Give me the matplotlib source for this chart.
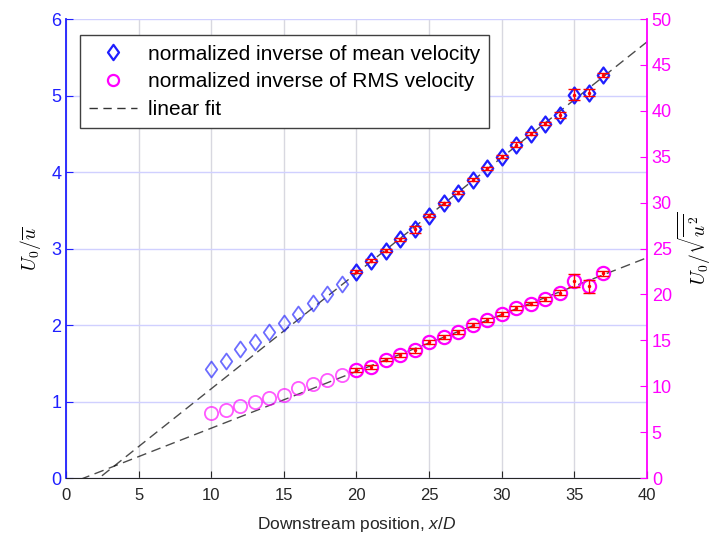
import numpy as np
import matplotlib.pyplot as plt
from matplotlib.lines import Line2D
from matplotlib.path import Path

plt.rcParams['font.family'] = ['Liberation Sans', 'DejaVu Sans']
plt.rcParams['mathtext.fontset'] = 'custom'
plt.rcParams['mathtext.rm'] = 'Liberation Sans'
plt.rcParams['mathtext.it'] = 'Liberation Sans:italic'

# --- DATA ---
x_pos = np.arange(10, 38)
mean_inv = [1.42, 1.53, 1.69, 1.78, 1.91, 2.03, 2.15, 2.29, 2.41, 2.54,
            2.70, 2.84, 2.97, 3.12, 3.25, 3.43, 3.59, 3.73, 3.90, 4.05,
            4.20, 4.36, 4.50, 4.63, 4.75, 5.01, 5.04, 5.27]
rms_inv = [7.05, 7.4, 7.9, 8.25, 8.75, 9.05, 9.85, 10.2, 10.65, 11.2,
           11.75, 12.1, 12.9, 13.4, 13.9, 14.8, 15.4, 15.9, 16.7, 17.2,
           17.9, 18.5, 19.0, 19.5, 20.2, 21.5, 20.9, 22.3]
mean_err = [0.02, 0.02, 0.02, 0.02, 0.05, 0.02, 0.02, 0.02, 0.02, 0.02,
            0.02, 0.03, 0.02, 0.02, 0.04, 0.07, 0.05, 0.03]
rms_err = [0.2, 0.2, 0.2, 0.2, 0.25, 0.2, 0.2, 0.2, 0.2, 0.2,
           0.2, 0.2, 0.2, 0.2, 0.3, 0.7, 0.7, 0.25]
FIT_START = 20  # points from here on are used for the fit

BLUE = '#1f1fff'
MAGENTA = '#ff00ff'

# taller-than-wide diamond, like the reference markers
DIAMOND = Path([(0, 1), (0.72, 0), (0, -1), (-0.72, 0), (0, 1)],
               [Path.MOVETO, Path.LINETO, Path.LINETO, Path.LINETO, Path.CLOSEPOLY])

mean_inv = np.array(mean_inv)
rms_inv = np.array(rms_inv)
used = x_pos >= FIT_START

fig = plt.figure(figsize=(7.18, 5.38), dpi=100)
ax = fig.add_axes([0.092, 0.1115, 0.809, 0.853])
ax2 = ax.twinx()

# --- fits ---
x_fit = np.linspace(0, 40, 200)
p_mean = np.polyfit(x_pos[used], mean_inv[used], 1)
p_rms = np.polyfit(x_pos[used], rms_inv[used], 1)
ax.plot(x_fit, np.polyval(p_mean, x_fit), '--', color='black', alpha=0.7,
        lw=1.0, dashes=(7, 4), zorder=2)
ax2.plot(x_fit, np.polyval(p_rms, x_fit), '--', color='black', alpha=0.7,
         lw=1.0, dashes=(7, 4), zorder=2)

# --- mean velocity (left) ---
ax.plot(x_pos[~used], mean_inv[~used], ls='none', marker=DIAMOND, mfc='none',
        mec=BLUE, ms=11.5, mew=1.3, alpha=0.65, zorder=3)
ax.plot(x_pos[used], mean_inv[used], ls='none', marker=DIAMOND, mfc='none',
        mec=BLUE, ms=11.5, mew=1.6, zorder=3)
ax.errorbar(x_pos[used], mean_inv[used], yerr=mean_err, fmt='.', color='red',
            ms=3, capsize=4, elinewidth=1, zorder=4)

# --- RMS velocity (right) ---
ax2.plot(x_pos[~used], rms_inv[~used], 'o', mfc='none', mec=MAGENTA, ms=9.5,
         mew=1.3, alpha=0.65, zorder=3)
ax2.plot(x_pos[used], rms_inv[used], 'o', mfc='none', mec=MAGENTA, ms=9.5,
         mew=1.6, zorder=3)
ax2.errorbar(x_pos[used], rms_inv[used], yerr=rms_err, fmt='.', color='red',
             ms=3, capsize=4, elinewidth=1, zorder=4)

# --- axes styling ---
ax.set_xlim(0, 40)
ax.set_ylim(0, 6)
ax2.set_ylim(0, 50)
ax.set_xticks(np.arange(0, 41, 5))
ax.set_yticks(np.arange(0, 7, 1))
ax2.set_yticks(np.arange(0, 51, 5))

ax.grid(axis='x', color='#d8d8e0', lw=1)
ax.grid(axis='y', color='#d0d0ff', lw=1)
ax.set_axisbelow(True)

for a in (ax, ax2):
    a.spines['top'].set_visible(False)
    a.tick_params(direction='in', length=5)
ax.spines['left'].set_color(BLUE)
ax.spines['left'].set_linewidth(1.3)
ax.spines['bottom'].set_color('#262626')
ax.spines['right'].set_visible(False)
ax2.spines['left'].set_visible(False)
ax2.spines['bottom'].set_visible(False)
ax2.spines['right'].set_color(MAGENTA)
ax2.spines['right'].set_linewidth(1.3)
ax.tick_params(axis='y', colors=BLUE, labelsize=13)
ax.tick_params(axis='x', colors='#262626', labelsize=12, pad=7)
ax2.tick_params(axis='y', colors=MAGENTA, labelsize=13)

ax.set_xlabel('Downstream position, $x/D$', fontsize=12.5, color='#262626',
              labelpad=9)
ax.set_ylabel('$U_0/\\overline{u}$', fontsize=14, labelpad=6,
              math_fontfamily='cm')
ax2.set_ylabel('$U_0/\\sqrt{\\overline{u^2}}$', fontsize=14, labelpad=3,
               math_fontfamily='cm')

handles = [
    Line2D([], [], ls='none', marker=DIAMOND, mfc='none', mec=BLUE, ms=11, mew=1.6),
    Line2D([], [], ls='none', marker='o', mfc='none', mec=MAGENTA, ms=8, mew=1.6),
    Line2D([], [], ls='--', color='black', alpha=0.8, lw=1.0, dashes=(6, 4)),
]
labels = ['normalized inverse of mean velocity',
          'normalized inverse of RMS velocity',
          'linear fit']
leg = ax2.legend(handles, labels, loc='upper left', bbox_to_anchor=(0.024, 0.965),
                 fontsize=15, frameon=True, fancybox=False, framealpha=1,
                 edgecolor='#404040', handlelength=2.3, handletextpad=0.5,
                 borderpad=0.45, labelspacing=0.42, borderaxespad=0)
leg.get_frame().set_linewidth(1.0)

fig.savefig('out.png', dpi=100)
